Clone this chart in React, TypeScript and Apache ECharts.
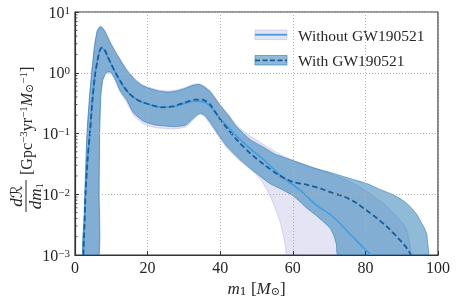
import React, { useEffect, useRef } from 'react';
import * as echarts from 'echarts';

const FONT = '"Liberation Serif", "DejaVu Serif", serif';
const TXT = '#262626';

const xTicks = [0, 20, 40, 60, 80, 100];
const yMinorTicks = [
  0.002, 0.003, 0.004, 0.005, 0.006, 0.007, 0.008, 0.009,
  0.02, 0.03, 0.04, 0.05, 0.06, 0.07, 0.08, 0.09,
  0.2, 0.3, 0.4, 0.5, 0.6, 0.7, 0.8, 0.9,
  2, 3, 4, 5, 6, 7, 8, 9,
];

const withMedian = [
  [2.3, 0.001], [2.6, 0.003], [2.9, 0.01], [3.5, 0.04], [4.1, 0.1], [4.8, 0.35], [5.5, 0.9],
  [6.2, 1.6], [6.8, 2.3], [7.4, 2.6], [8.2, 2.35], [9.2, 1.74], [11, 1.05], [13, 0.65],
  [15, 0.45], [17.5, 0.35], [20.5, 0.3], [24, 0.27], [27, 0.28], [30, 0.32], [33, 0.36],
  [35, 0.36], [37, 0.31], [39, 0.21], [40, 0.17], [42, 0.12], [45, 0.074], [48.5, 0.046],
  [52, 0.031], [56, 0.021], [60, 0.016], [64, 0.0143], [68, 0.0122], [71, 0.0105],
  [74, 0.0092], [77, 0.0075], [80, 0.0056], [83, 0.0041], [86, 0.0029], [89, 0.0019],
  [91, 0.0014], [92.6, 0.001],
];

const withoutMedian = [
  [2.3, 0.001], [2.6, 0.003], [2.9, 0.01], [3.5, 0.04], [4.1, 0.1], [4.8, 0.35], [5.5, 0.9],
  [6.2, 1.6], [6.8, 2.25], [7.4, 2.55], [8.2, 2.3], [9.2, 1.72], [11, 1.04], [13, 0.64],
  [15, 0.45], [17.5, 0.35], [20.5, 0.3], [24, 0.27], [27, 0.275], [30, 0.31], [33, 0.34],
  [35, 0.335], [37, 0.29], [40, 0.175], [42, 0.13], [45, 0.085], [48.5, 0.055], [52, 0.037],
  [57, 0.0195], [62, 0.0117], [66.5, 0.0066], [71, 0.0043], [76.5, 0.002], [79, 0.0014],
  [81.7, 0.001],
];

const withUpper = [
  [2.2, 0.001], [2.5, 0.004], [2.7, 0.01], [3.3, 0.1], [4.0, 0.4], [4.6, 1.0], [5.4, 2.8],
  [6.1, 4.8], [6.9, 5.7], [7.6, 5.4], [8.3, 4.7], [10, 2.9], [11.9, 1.85], [14, 1.15],
  [16.5, 0.77], [18.5, 0.62], [20.2, 0.56], [23, 0.5], [25.7, 0.48], [28, 0.5], [30.3, 0.55],
  [32.5, 0.62], [34.2, 0.64], [35.5, 0.59], [37.2, 0.49], [40, 0.29], [42.2, 0.2],
  [44.5, 0.13], [48.2, 0.08], [51.4, 0.062], [55, 0.046], [60.6, 0.035], [66, 0.027],
  [71.2, 0.022], [76, 0.018], [80.4, 0.015], [84, 0.012], [87.7, 0.0098], [90.5, 0.0078],
  [92.3, 0.0063], [94, 0.0048], [95, 0.0038], [96.2, 0.0028], [96.9, 0.0022], [97.2, 0.0015],
  [97.3, 0.001],
];

const withLower = [
  [6.6, 0.001], [6.65, 0.01], [6.8, 0.1], [7.1, 0.4], [7.6, 0.75], [8.4, 0.97], [9.2, 1.05],
  [10, 1.0], [11, 0.8], [12.5, 0.5], [14.2, 0.36], [16.1, 0.22], [18.8, 0.16], [22, 0.138],
  [25.3, 0.132], [28, 0.13], [30.5, 0.138], [32, 0.165], [33.5, 0.2], [34.5, 0.215],
  [35.7, 0.2], [37, 0.16], [39, 0.107], [41.8, 0.062], [45.5, 0.037], [50, 0.022],
  [53.7, 0.015], [57, 0.012], [60, 0.0095], [62, 0.0075], [64, 0.0058], [66.6, 0.0044],
  [68.5, 0.0035], [70.2, 0.0028], [71.3, 0.0021], [72, 0.0015], [72.4, 0.001],
];

const withoutUpper = [
  [2.2, 0.001], [2.5, 0.004], [2.7, 0.01], [3.3, 0.1], [4.0, 0.42], [4.6, 1.05], [5.4, 2.9],
  [6.1, 5.0], [6.9, 5.9], [7.6, 5.6], [8.3, 4.9], [10, 3.0], [11.9, 1.9], [14, 1.2],
  [16.5, 0.8], [18.5, 0.64], [20.2, 0.58], [23, 0.52], [25.7, 0.5], [28, 0.52], [30.3, 0.57],
  [32.5, 0.64], [34.2, 0.66], [35.5, 0.61], [37.2, 0.51], [40, 0.3], [42.2, 0.21],
  [44.5, 0.137], [47, 0.103], [50, 0.078], [53, 0.06], [56, 0.047], [60, 0.036], [65, 0.028],
  [70, 0.022], [73, 0.019], [75.8, 0.016], [80, 0.0115], [84.9, 0.0071], [88, 0.0047],
  [90, 0.0035], [91.4, 0.0026], [92, 0.0018], [92.3, 0.001],
];

const withoutLower = [
  [6.5, 0.001], [6.6, 0.01], [6.75, 0.1], [7.05, 0.4], [7.6, 0.72], [8.4, 0.93], [9.2, 1.0],
  [10, 0.95], [11, 0.76], [12.5, 0.47], [14.2, 0.33], [16.1, 0.2], [18.8, 0.145], [22, 0.125],
  [25.3, 0.12], [28, 0.12], [30.5, 0.128], [32, 0.155], [33.5, 0.19], [34.5, 0.205],
  [35.7, 0.19], [37, 0.15], [39, 0.1], [41.8, 0.058], [45.5, 0.035], [48.5, 0.025],
  [51, 0.018], [52.8, 0.012], [54.2, 0.0081], [55.5, 0.0052], [56.5, 0.0035], [57.3, 0.0022],
  [58, 0.0014], [58.3, 0.001],
];

const WITH_FILL = 'rgba(31,119,180,0.5)';
const WITH_EDGE = 'rgba(31,119,180,0.55)';
const WITHOUT_FILL = 'rgba(120,120,200,0.2)';
const WITHOUT_EDGE = 'rgba(120,120,200,0.25)';
const SOLID_COLOR = '#3f9ee3';
const DASH_COLOR = '#1b5d99';

function bandSeries(name: string, upper: number[][], lower: number[][], fill: string, stroke: string, z: number) {
  return {
    type: 'custom',
    name,
    clip: true,
    silent: true,
    z,
    data: [[50, 1]],
    encode: { x: 0, y: 1 },
    renderItem: (_params: any, api: any) => {
      const pts = upper
        .map((p) => api.coord(p))
        .concat(lower.slice().reverse().map((p) => api.coord(p)));
      return {
        type: 'polygon',
        shape: { points: pts, smooth: 0.15 },
        style: { fill, stroke, lineWidth: 1 },
      };
    },
  };
}

export default function App() {
  const ref = useRef<HTMLDivElement>(null);
  useEffect(() => {
    const chart = echarts.init(ref.current!, null, { renderer: 'svg' });
    const supRich = {
      b: { fontSize: 16, fontFamily: FONT, color: TXT, lineHeight: 16, verticalAlign: 'bottom' },
      s: { fontSize: 11, fontFamily: FONT, color: TXT, lineHeight: 11, verticalAlign: 'top', padding: [0, 0, 8, 0] },
    };
    const option: any = {
      animation: false,
      grid: {
        left: 75, right: 19, top: 12, bottom: 47,
        show: true, borderColor: '#333', borderWidth: 1.2, backgroundColor: 'transparent',
      },
      xAxis: {
        type: 'value', min: 0, max: 100, interval: 20, z: 10,
        axisLine: { show: true, lineStyle: { color: '#333', width: 1.2 } },
        axisTick: { show: true, inside: true, length: 4, lineStyle: { color: '#333' } },
        axisLabel: {
          margin: 4, fontFamily: FONT, fontSize: 16, color: TXT,
          formatter: (v: number) => (xTicks.includes(v) ? String(v) : ''),
        },
        splitLine: { show: true, lineStyle: { color: '#b0b0b0', type: [1, 2], width: 1 } },
        name: '{i|m}{sub|1} [{i|M}{sub|⊙}]',
        nameLocation: 'middle',
        nameGap: 19,
        nameTextStyle: {
          rich: {
            i: { fontSize: 17, fontFamily: FONT, fontStyle: 'italic', color: TXT, lineHeight: 17, verticalAlign: 'top' },
            sub: { fontSize: 11, fontFamily: '"DejaVu Serif", serif', color: TXT, lineHeight: 11, verticalAlign: 'bottom', padding: [6, 0, 0, 0] },
          },
          fontSize: 17, fontFamily: FONT, color: TXT, verticalAlign: 'top',
        },
      },
      yAxis: {
        type: 'log', logBase: 10, min: 0.001, max: 10, z: 10,
        axisLine: { show: true, lineStyle: { color: '#333', width: 1.2 } },
        axisTick: { show: true, inside: true, length: 4, lineStyle: { color: '#333' } },
        axisLabel: {
          margin: 5,
          formatter: (v: number) => {
            const e = Math.round(Math.log10(v));
            return `{b|10}{s|${e < 0 ? '−' : ''}${Math.abs(e)}}`;
          },
          rich: supRich,
        },
        splitLine: { show: true, lineStyle: { color: '#b0b0b0', type: [1, 2], width: 1 } },
      },
      series: [
        bandSeries('Without GW190521 band', withoutUpper, withoutLower, WITHOUT_FILL, WITHOUT_EDGE, 2),
        bandSeries('With GW190521 band', withUpper, withLower, WITH_FILL, WITH_EDGE, 3),
        {
          type: 'line', name: 'Without GW190521', data: withoutMedian, smooth: 0.3, showSymbol: false,
          z: 4, lineStyle: { color: SOLID_COLOR, width: 1.6 }, clip: true,
        },
        {
          type: 'line', name: 'With GW190521', data: withMedian, smooth: 0.3, showSymbol: false,
          z: 5, lineStyle: { color: DASH_COLOR, width: 1.8, type: [5.5, 3] }, clip: true,
        },
        {
          type: 'custom', name: 'minor ticks', silent: true, z: 11,
          data: yMinorTicks.map((v) => [0, v]),
          encode: { x: 0, y: 1 },
          renderItem: (_p: any, api: any) => {
            const c = api.coord([0, api.value(1)]);
            return {
              type: 'line',
              shape: { x1: c[0], y1: c[1], x2: c[0] + 2.5, y2: c[1] },
              style: { stroke: '#333', lineWidth: 0.8 },
            };
          },
        },
      ],
      graphic: [
        { type: 'rect', shape: { x: 255, y: 30, width: 32, height: 9.5 }, style: { fill: WITHOUT_FILL, stroke: WITHOUT_EDGE } },
        { type: 'line', shape: { x1: 255, y1: 34.7, x2: 287, y2: 34.7 }, style: { stroke: SOLID_COLOR, lineWidth: 1.8 } },
        { type: 'text', x: 298, y: 35, style: { text: 'Without GW190521', fontFamily: FONT, fontSize: 15.5, fill: TXT, verticalAlign: 'middle' } },
        { type: 'rect', shape: { x: 255, y: 55.5, width: 32, height: 9.5 }, style: { fill: WITH_FILL, stroke: WITH_EDGE } },
        { type: 'line', shape: { x1: 255, y1: 60.3, x2: 287, y2: 60.3 }, style: { stroke: DASH_COLOR, lineWidth: 1.8, lineDash: [5, 2.5] } },
        { type: 'text', x: 298, y: 60.5, style: { text: 'With GW190521', fontFamily: FONT, fontSize: 15.5, fill: TXT, verticalAlign: 'middle' } },
        {
          type: 'group', x: 26, y: 135, rotation: Math.PI / 2,
          children: [
            {
              type: 'text', x: -61, y: -1,
              style: {
                text: '{i|d}{r|ℛ}', align: 'center', verticalAlign: 'bottom',
                rich: {
                  i: { fontSize: 17, fontFamily: FONT, fontStyle: 'italic', fill: TXT },
                  r: { fontSize: 16, fontFamily: '"DejaVu Serif", "DejaVu Sans", serif', fill: TXT },
                },
              },
            },
            { type: 'line', shape: { x1: -77, y1: 0, x2: -45, y2: 0 }, style: { stroke: TXT, lineWidth: 1 } },
            {
              type: 'text', x: -61, y: 1,
              style: {
                text: '{i|dm}{sub|1}', align: 'center', verticalAlign: 'top',
                rich: {
                  i: { fontSize: 17, fontFamily: FONT, fontStyle: 'italic', fill: TXT, lineHeight: 17, verticalAlign: 'top' },
                  sub: { fontSize: 11, fontFamily: FONT, fill: TXT, lineHeight: 11, verticalAlign: 'bottom', padding: [6, 0, 0, 0] },
                },
              },
            },
            {
              type: 'text', x: -40, y: 0,
              style: {
                text: '{n|[Gpc}{s|−3}{n|yr}{s|−1}{i|M}{sub|⊙}{s|−1}{n|]}',
                align: 'left', verticalAlign: 'middle',
                rich: {
                  n: { fontSize: 16, fontFamily: FONT, fill: TXT, lineHeight: 17, verticalAlign: 'middle' },
                  i: { fontSize: 16, fontFamily: FONT, fontStyle: 'italic', fill: TXT, lineHeight: 17, verticalAlign: 'middle' },
                  s: { fontSize: 11, fontFamily: FONT, fill: TXT, lineHeight: 11, verticalAlign: 'top' },
                  sub: { fontSize: 11, fontFamily: '"DejaVu Serif", serif', fill: TXT, lineHeight: 11, verticalAlign: 'bottom' },
                },
              },
            },
          ],
        },
      ],
    };
    chart.setOption(option);
    return () => chart.dispose();
  }, []);
  return <div ref={ref} style={{ position: 'fixed', left: 0, top: 0, width: 457, height: 302 }} />;
}
